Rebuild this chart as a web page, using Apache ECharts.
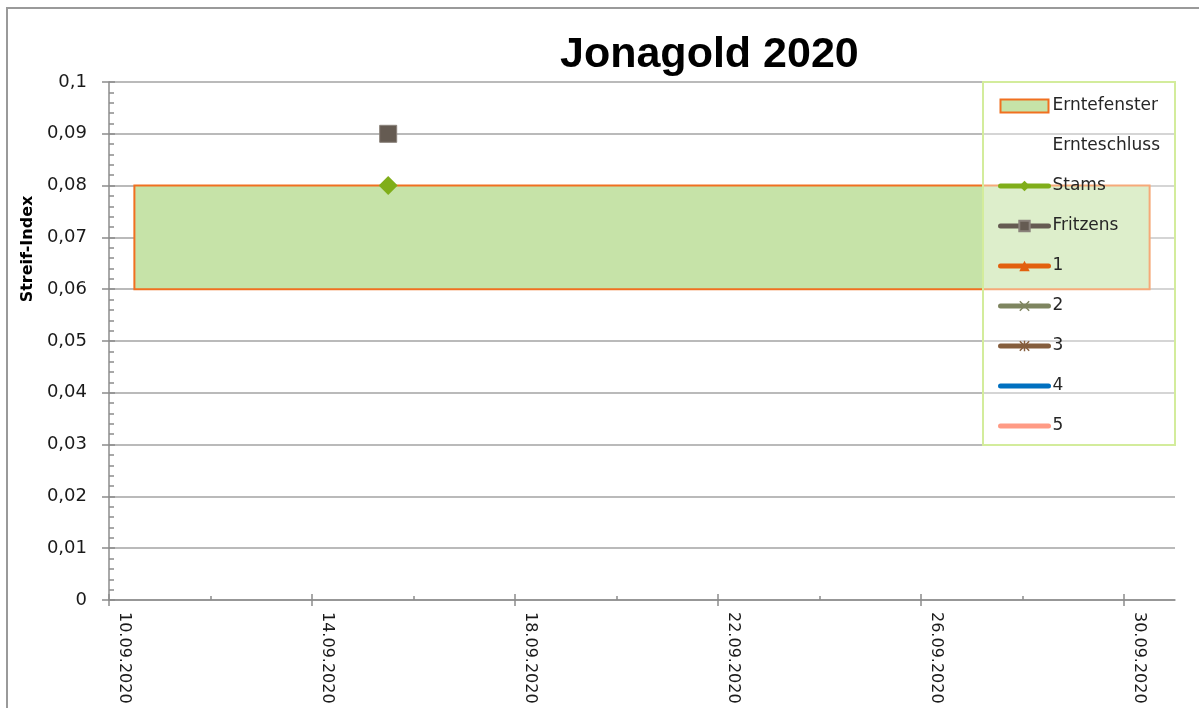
<!DOCTYPE html>
<html>
<head>
<meta charset="utf-8">
<title>Jonagold 2020</title>
<script src="https://cdn.jsdelivr.net/npm/echarts@6/dist/echarts.min.js"></script>
<style>
  html, body { margin: 0; padding: 0; background: #fff; }
  #chart { width: 1199px; height: 708px; }
</style>
</head>
<body>
<div id="chart"></div>
<script>
// Daten
const startDate = '10.09.2020'
const endDate = '01.10.2020'
const majorTickDates = ['10.09.2020', '14.09.2020', '18.09.2020', '22.09.2020', '26.09.2020', '30.09.2020']
const minorTickDates = ['12.09.2020', '16.09.2020', '20.09.2020', '24.09.2020', '28.09.2020']
const yTicks = [0, 0.01, 0.02, 0.03, 0.04, 0.05, 0.06, 0.07, 0.08, 0.09, 0.1]

const fensterDates = ['10.09.2020', '30.09.2020']
const fensterValues = [0.06, 0.08]

const stamsDates = ['15.09.2020']
const stamsValues = [0.08]
const fritzensDates = ['15.09.2020']
const fritzensValues = [0.09]
const ernteschlussDates = []
const ernteschlussValues = []
const serie1Dates = []
const serie1Values = []
const serie2Dates = []
const serie2Values = []
const serie3Dates = []
const serie3Values = []
const serie4Dates = []
const serie4Values = []
const serie5Dates = []
const serie5Values = []

// Tag-Index ab startDate
const toDay = s => {
  const [d, m, y] = s.split('.').map(Number)
  const [d0, m0, y0] = startDate.split('.').map(Number)
  return Math.round((Date.UTC(y, m - 1, d) - Date.UTC(y0, m0 - 1, d0)) / 86400000)
}
const fromDay = n => {
  const [d0, m0, y0] = startDate.split('.').map(Number)
  const dt = new Date(Date.UTC(y0, m0 - 1, d0) + n * 86400000)
  const pad = v => String(v).padStart(2, '0')
  return pad(dt.getUTCDate()) + '.' + pad(dt.getUTCMonth() + 1) + '.' + dt.getUTCFullYear()
}
// Punkte sitzen in der Mitte des Tages
const pts = (dates, values) => dates.map((d, i) => [toDay(d) + 0.5, values[i]])

const majorTicks = majorTickDates.map(toDay)
const minorTicks = minorTickDates.map(toDay)
const xMax = toDay(endDate)

const FONT = '"DejaVu Sans", sans-serif'
const GRID_COLOR = '#a3a3a3'
const AXIS_COLOR = '#8c8c8c'

const SYM_X = 'path://M1,0L5,4L9,0L10,1L6,5L10,9L9,10L5,6L1,10L0,9L4,5L0,1Z'
const SYM_STAR = 'path://M1,0L5,4L9,0L10,1L6,5L10,9L9,10L5,6L1,10L0,9L4,5L0,1Z M4.3,0L5.7,0L5.7,10L4.3,10Z'

const chart = echarts.init(document.getElementById('chart'), null, { renderer: 'canvas' })

const lineSeries = (name, data, color, symbol, symbolSize) => ({
  name,
  type: 'line',
  data,
  symbol,
  symbolSize,
  itemStyle: { color },
  lineStyle: { color, width: 5, cap: 'round' },
  z: 5,
})

chart.setOption({
  backgroundColor: '#fff',
  animation: false,
  title: {
    text: 'Jonagold 2020',
    left: 555,
    top: 29,
    textStyle: { fontFamily: '"Liberation Sans", Arial, sans-serif', fontWeight: 'bold', fontSize: 43, color: '#000' },
  },
  grid: { left: 109, right: 24, top: 82, bottom: 108, containLabel: false },
  legend: {
    orient: 'vertical',
    left: 998,
    top: 96,
    padding: 0,
    itemWidth: 48,
    itemHeight: 13,
    itemGap: 20,
    lineStyle: { width: 5, cap: 'round' },
    textStyle: { fontFamily: FONT, fontSize: 17, color: '#262626', lineHeight: 20, padding: [0, 0, 0, -1] },
    data: [
      { name: 'Erntefenster', icon: 'rect', itemStyle: { color: '#c6e3a8', borderColor: '#f07020', borderWidth: 2 } },
      { name: 'Ernteschluss', icon: 'rect', itemStyle: { color: 'rgba(0,0,0,0)', borderWidth: 0 } },
      'Stams', 'Fritzens', '1', '2', '3',
      { name: '4', itemStyle: { opacity: 0 } },
      { name: '5', itemStyle: { opacity: 0 } },
    ],
  },
  xAxis: [
    {
      type: 'value',
      min: 0,
      max: xMax,
      position: 'bottom',
      axisLine: { show: true, lineStyle: { color: AXIS_COLOR, width: 1.5 } },
      axisTick: { show: true, customValues: majorTicks, length: 6, lineStyle: { color: AXIS_COLOR, width: 1.5 } },
      axisLabel: {
        customValues: majorTicks,
        rotate: -90,
        margin: 12,
        verticalAlign: 'bottom',
        lineHeight: 30,
        fontFamily: FONT,
        fontSize: 16,
        color: '#1a1a1a',
        formatter: v => fromDay(v),
      },
      splitLine: { show: false },
    },
    {
      type: 'value',
      min: 0,
      max: xMax,
      position: 'bottom',
      axisLine: { show: false },
      axisTick: { show: true, inside: true, customValues: majorTicks, length: 6, lineStyle: { color: AXIS_COLOR, width: 1.5 } },
      axisLabel: { show: false },
      splitLine: { show: false },
    },
    {
      type: 'value',
      min: 0,
      max: xMax,
      position: 'bottom',
      axisLine: { show: false },
      axisTick: { show: true, inside: true, customValues: minorTicks, length: 4, lineStyle: { color: AXIS_COLOR, width: 1.5 } },
      axisLabel: { show: false },
      splitLine: { show: false },
    },
  ],
  yAxis: [
    {
      type: 'value',
      min: yTicks[0],
      max: yTicks[yTicks.length - 1],
      interval: 0.01,
      position: 'left',
      axisLine: { show: true, lineStyle: { color: AXIS_COLOR, width: 1.5 } },
      axisTick: { show: true, length: 7, lineStyle: { color: AXIS_COLOR, width: 1.5 } },
      axisLabel: {
        margin: 22,
        fontFamily: FONT,
        fontSize: 18,
        color: '#1a1a1a',
        formatter: v => String(+v.toFixed(2)).replace('.', ','),
      },
      splitLine: { show: true, lineStyle: { color: GRID_COLOR, width: 1.5 } },
    },
    {
      type: 'value',
      min: yTicks[0],
      max: yTicks[yTicks.length - 1],
      interval: 0.01,
      position: 'left',
      axisLine: { show: false },
      axisTick: { show: true, inside: true, length: 6, lineStyle: { color: AXIS_COLOR, width: 1.5 } },
      minorTick: { show: true, splitNumber: 5, length: 5, lineStyle: { color: AXIS_COLOR, width: 1.5 } },
      axisLabel: { show: false },
      splitLine: { show: false },
    },
  ],
  graphic: [
    {
      type: 'rect',
      z: -10,
      silent: true,
      shape: { x: 7, y: 8, width: 1400, height: 900 },
      style: { fill: 'none', stroke: '#9a9a9a', lineWidth: 2 },
    },
    {
      // Legendenrahmen
      type: 'rect',
      z: 3,
      silent: true,
      shape: { x: 983, y: 82, width: 192, height: 363 },
      style: { fill: 'rgba(255,255,255,0.4)', stroke: '#d3ec9c', lineWidth: 2 },
    },
    {
      type: 'text',
      x: 28,
      y: 249,
      rotation: Math.PI / 2,
      silent: true,
      style: {
        text: 'Streif-Index',
        font: 'bold 16px "DejaVu Sans", sans-serif',
        fill: '#000',
        align: 'center',
        verticalAlign: 'middle',
      },
    },
  ],
  series: [
    {
      name: 'Erntefenster',
      type: 'custom',
      z: 2,
      itemStyle: { color: '#c6e3a8' },
      encode: { x: [0, 1], y: [2, 3] },
      data: [[toDay(fensterDates[0]) + 0.5, toDay(fensterDates[1]) + 0.5, fensterValues[0], fensterValues[1]]],
      renderItem: (params, api) => {
        const a = api.coord([api.value(0), api.value(3)])
        const b = api.coord([api.value(1), api.value(2)])
        return {
          type: 'rect',
          shape: { x: a[0], y: a[1], width: b[0] - a[0], height: b[1] - a[1] },
          style: { fill: '#c6e3a8', stroke: '#f07020', lineWidth: 2 },
        }
      },
    },
    {
      name: 'Ernteschluss',
      type: 'line',
      data: pts(ernteschlussDates, ernteschlussValues),
      symbol: 'none',
      itemStyle: { color: 'rgba(0,0,0,0)' },
      lineStyle: { color: 'rgba(0,0,0,0)', width: 0 },
    },
    lineSeries('Stams', pts(stamsDates, stamsValues), '#80ae1a', 'diamond', 19),
    {
      ...lineSeries('Fritzens', pts(fritzensDates, fritzensValues), '#655b52', 'rect', 17),
      itemStyle: { color: '#655b52', borderColor: '#8a827b', borderWidth: 1 },
    },
    lineSeries('1', pts(serie1Dates, serie1Values), '#e2600e', 'triangle', 10),
    lineSeries('2', pts(serie2Dates, serie2Values), '#7e8560', SYM_X, 10),
    lineSeries('3', pts(serie3Dates, serie3Values), '#855e3d', SYM_STAR, 10),
    lineSeries('4', pts(serie4Dates, serie4Values), '#0070c0', 'none', 10),
    lineSeries('5', pts(serie5Dates, serie5Values), '#ff9b85', 'none', 10),
  ],
})
</script>
</body>
</html>
